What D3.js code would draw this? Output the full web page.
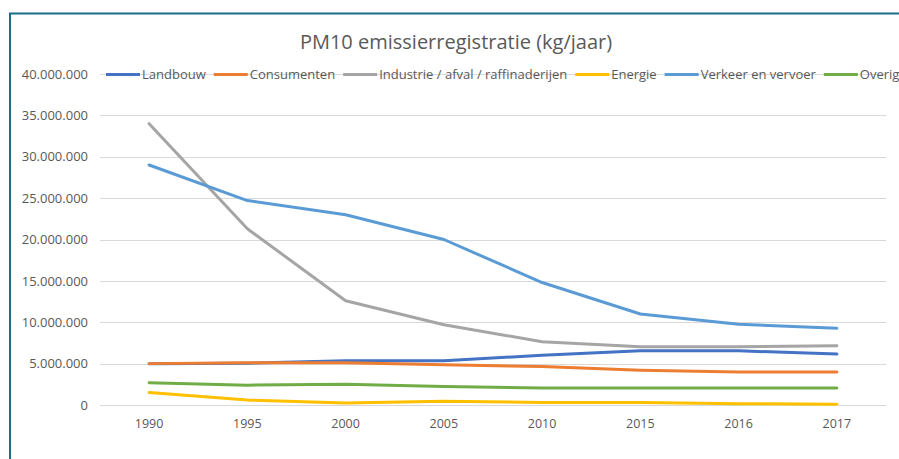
<!DOCTYPE html>
<html>
<head>
<meta charset="utf-8">
<script src="https://cdn.jsdelivr.net/npm/d3@7"></script>
<style>
  body { margin: 0; background: #fff; }
  svg { display: block; font-family: "Open Sans", "Liberation Sans", sans-serif; }
</style>
</head>
<body>
<script>
'use strict';

// data
const jaren = ["1990", "1995", "2000", "2005", "2010", "2015", "2016", "2017"];
const landbouw    = [5000000, 5050000, 5350000, 5350000, 6000000, 6550000, 6550000, 6150000];
const consumenten = [5000000, 5100000, 5100000, 4850000, 4650000, 4200000, 4000000, 4000000];
const industrie   = [34000000, 21300000, 12600000, 9700000, 7650000, 7050000, 7050000, 7170000];
const energie     = [1500000, 600000, 250000, 450000, 300000, 300000, 150000, 100000];
const verkeer     = [29000000, 24700000, 23000000, 20000000, 14800000, 11000000, 9750000, 9270000];
const overig      = [2700000, 2400000, 2500000, 2250000, 2050000, 2050000, 2050000, 2050000];
const yTicks = [0, 5000000, 10000000, 15000000, 20000000, 25000000, 30000000, 35000000, 40000000];

const reeksen = [
  {naam: "Landbouw", waarden: landbouw, kleur: "#4472C4"},
  {naam: "Consumenten", waarden: consumenten, kleur: "#ED7D31"},
  {naam: "Industrie / afval / raffinaderijen", waarden: industrie, kleur: "#A5A5A5"},
  {naam: "Energie", waarden: energie, kleur: "#FFC000"},
  {naam: "Verkeer en vervoer", waarden: verkeer, kleur: "#5B9BD5"},
  {naam: "Overig", waarden: overig, kleur: "#70AD47"}
];

const width = 899, height = 459;
const svg = d3.select("body").append("svg")
  .attr("width", width)
  .attr("height", height);

// kader
svg.append("path")
  .attr("d", "M10,460 L10,13.5 L900,13.5")
  .attr("fill", "none")
  .attr("stroke", "#1c6e86")
  .attr("stroke-width", 2);

// titel
svg.append("text")
  .attr("x", 456).attr("y", 49)
  .attr("text-anchor", "middle")
  .attr("font-size", 20)
  .attr("fill", "#595959")
  .text("PM10 emissierregistratie (kg/jaar)");

// schalen
const x = d3.scaleBand()
  .domain(jaren)
  .range([100, 886]);

const y = d3.scaleLinear()
  .domain([0, 40000000])
  .range([405, 74]);

const fmt = v => d3.format(",")(v).replace(/,/g, ".");

// rasterlijnen
svg.append("g")
  .selectAll("line")
  .data(yTicks)
  .enter()
  .append("line")
    .attr("x1", 100).attr("x2", 886)
    .attr("y1", d => Math.round(y(d)) + 0.5)
    .attr("y2", d => Math.round(y(d)) + 0.5)
    .attr("stroke", "#d9d9d9")
    .attr("stroke-width", 1);

// as Y
const axeY = svg.append("g")
  .attr("transform", "translate(88,0)")
  .call(d3.axisLeft(y).tickValues(yTicks).tickFormat(fmt).tickSize(0).tickPadding(0));
axeY.select(".domain").remove();
axeY.selectAll("text")
  .attr("font-size", 13)
  .attr("font-family", "Open Sans, Liberation Sans, sans-serif")
  .attr("fill", "#595959");

// as X
const axeX = svg.append("g")
  .attr("transform", "translate(0,405)")
  .call(d3.axisBottom(x).tickSize(0).tickPadding(14));
axeX.select(".domain").remove();
axeX.selectAll("text")
  .attr("font-size", 12.5)
  .attr("font-family", "Liberation Sans Narrow, Open Sans, sans-serif")
  .attr("fill", "#595959");

// lijnen
const lijn = d3.line()
  .x((d, i) => x(jaren[i]) + x.bandwidth() / 2)
  .y(d => y(d));

svg.append("g")
  .selectAll("path")
  .data(reeksen)
  .enter()
  .append("path")
    .attr("d", d => lijn(d.waarden))
    .attr("fill", "none")
    .attr("stroke", d => d.kleur)
    .attr("stroke-width", 3)
    .attr("stroke-linejoin", "round")
    .attr("stroke-linecap", "round");

// legenda
const legende = svg.append("g");
let lx = 106;
reeksen.forEach(function(r) {
  legende.append("line")
    .attr("x1", lx).attr("x2", lx + 34)
    .attr("y1", 74.5).attr("y2", 74.5)
    .attr("stroke", r.kleur)
    .attr("stroke-width", 3);
  const t = legende.append("text")
    .attr("x", lx + 36).attr("y", 79)
    .attr("font-size", 13)
    .attr("fill", "#595959")
    .text(r.naam);
  lx += 36 + t.node().getComputedTextLength() + 8;
});
</script>
</body>
</html>
